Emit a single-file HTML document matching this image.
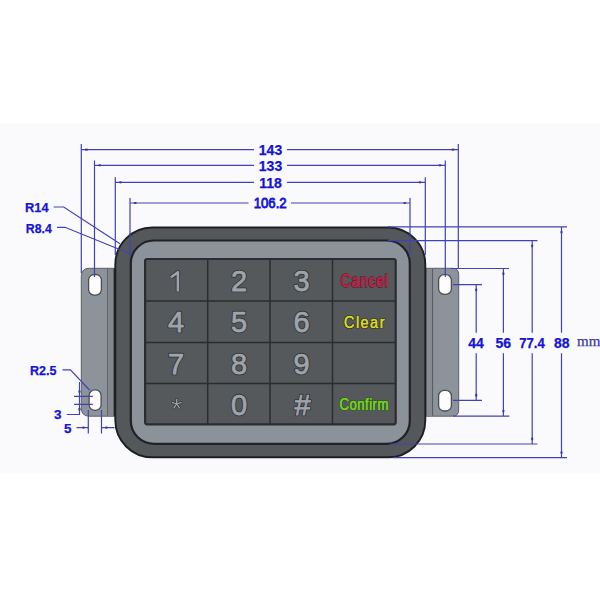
<!DOCTYPE html>
<html><head><meta charset="utf-8">
<style>
html,body{margin:0;padding:0;background:#fff;width:600px;height:600px;overflow:hidden}
svg{display:block}
.d{stroke:#4242b4;stroke-width:1.2;fill:none}
.t{font-family:"Liberation Sans",sans-serif;font-weight:bold;fill:#1414d4;stroke:#1414d4;stroke-width:0.25}
.k{font-family:"Liberation Sans",sans-serif;fill:#b4b8bd;stroke:#3a3d40;stroke-width:0.6;paint-order:stroke}
</style></head>
<body>
<svg width="600" height="600" viewBox="0 0 600 600">
<rect x="0" y="0" width="600" height="600" fill="#ffffff"/>
<rect x="0" y="123.5" width="600" height="349" fill="#fafafd"/>

<!-- brackets -->
<path d="M115.5 268.3 H89.5 Q81.3 268.3 81.3 276.5 V408 Q81.3 416.2 89.5 416.2 H115.5 Z" fill="#8d939a" stroke="#5c6065" stroke-width="1"/>
<rect x="107" y="268.8" width="1.2" height="147" fill="#5e6368"/>
<rect x="108.2" y="268.8" width="5.4" height="147" fill="#82878d"/>
<rect x="113.6" y="268.8" width="1.5" height="147" fill="#25272a"/>
<path d="M425 268.3 H452.5 Q458.7 268.3 458.7 274.5 V410 Q458.7 416.2 452.5 416.2 H425 Z" fill="#8d939a" stroke="#5c6065" stroke-width="1"/>
<rect x="425.5" y="268.8" width="1" height="147" fill="#2c2e31"/>
<rect x="426.5" y="268.8" width="5.6" height="147" fill="#868c92"/>
<rect x="432" y="268.8" width="1.1" height="147" fill="#5a5e63"/>
<!-- slots -->
<rect x="88.6" y="274.5" width="12.8" height="20.6" rx="5.6" ry="5.6" fill="#fdfdfd" stroke="#4a4d51" stroke-width="1.3"/>
<rect x="89.1" y="389.8" width="12" height="20.5" rx="5.6" ry="5.6" fill="#fdfdfd" stroke="#4a4d51" stroke-width="1.3"/>
<rect x="438.6" y="274.6" width="12.8" height="19.8" rx="5.6" ry="5.6" fill="#fdfdfd" stroke="#4a4d51" stroke-width="1.3"/>
<rect x="438.6" y="390.3" width="12.8" height="20.7" rx="5.6" ry="5.6" fill="#fdfdfd" stroke="#4a4d51" stroke-width="1.3"/>

<!-- outer frame -->
<rect x="115.3" y="227.5" width="310" height="229.8" rx="37" ry="37" fill="#55585b" stroke="#1e1f21" stroke-width="1.9"/>
<!-- bezel -->
<rect x="130.8" y="240.5" width="279" height="203.3" rx="23" ry="23" fill="#8c929a" stroke="#202225" stroke-width="2.2"/>
<!-- key area -->
<rect x="145.1" y="259" width="250.6" height="165.3" rx="2" ry="2" fill="#56595c" stroke="#2a2c2f" stroke-width="2.2"/>
<g stroke="#2a2c2f" stroke-width="1.5">
<line x1="207.7" y1="259" x2="207.7" y2="424.5"/>
<line x1="270" y1="259" x2="270" y2="424.5"/>
<line x1="332.5" y1="259" x2="332.5" y2="424.5"/>
<line x1="144.5" y1="301" x2="396" y2="301"/>
<line x1="144.5" y1="342.5" x2="396" y2="342.5"/>
<line x1="144.5" y1="383.6" x2="396" y2="383.6"/>
</g>
<!-- key labels -->
<path d="M171 277.2 L177.9 272.2 V291.2" fill="none" stroke="#33363a" stroke-width="4.3" stroke-linejoin="round"/>
<path d="M171 277.2 L177.9 272.2 V291.2" fill="none" stroke="#9fa4aa" stroke-width="2.6" stroke-linejoin="round"/>
<g font-family="Liberation Sans" font-size="29" text-anchor="middle" fill="none" stroke="#33363a" stroke-width="2.6" stroke-linejoin="round">
<text x="239" y="290.8">2</text>
<text x="301.5" y="290.8">3</text>
<text x="176" y="332.2">4</text>
<text x="239" y="332.2">5</text>
<text x="301.5" y="332.2">6</text>
<text x="176" y="374">7</text>
<text x="239" y="374">8</text>
<text x="301.5" y="374">9</text>
<text x="239" y="414.6">0</text>
<text x="302.5" y="415">#</text>
</g>
<g font-family="Liberation Sans" font-size="29" text-anchor="middle" fill="#9fa4aa" stroke="#9fa4aa" stroke-width="0.75" stroke-linejoin="round">
<text x="239" y="290.8">2</text>
<text x="301.5" y="290.8">3</text>
<text x="176" y="332.2">4</text>
<text x="239" y="332.2">5</text>
<text x="301.5" y="332.2">6</text>
<text x="176" y="374">7</text>
<text x="239" y="374">8</text>
<text x="301.5" y="374">9</text>
<text x="239" y="414.6">0</text>
<text x="302.5" y="415">#</text>
</g>
<g stroke="#35383b" stroke-width="2.4" stroke-linecap="round"><path d="M176.7 404 V399.3 M176.7 404 L181.2 402.5 M176.7 404 L179.5 407.8 M176.7 404 L173.9 407.8 M176.7 404 L172.2 402.5"/></g>
<g stroke="#a4a9ae" stroke-width="1.2" stroke-linecap="round"><path d="M176.7 404 V399.3 M176.7 404 L181.2 402.5 M176.7 404 L179.5 407.8 M176.7 404 L173.9 407.8 M176.7 404 L172.2 402.5"/></g>
<text transform="translate(364,287) scale(0.8,1)" font-family="Liberation Sans" font-size="17.5" text-anchor="middle" fill="#c41e46" stroke="#33262a" stroke-width="1.5" paint-order="stroke" stroke-linejoin="round" textLength="59" lengthAdjust="spacing">Cancel</text>
<text transform="translate(364,287) scale(0.8,1)" font-family="Liberation Sans" font-size="17.5" text-anchor="middle" fill="#c41e46" stroke="#c41e46" stroke-width="0.45" stroke-linejoin="round" textLength="59" lengthAdjust="spacing">Cancel</text>
<text transform="translate(364.2,328) scale(0.9,1)" font-family="Liberation Sans" font-size="16" text-anchor="middle" fill="#d8d82c" stroke="#36361e" stroke-width="2.2" paint-order="stroke" stroke-linejoin="round" textLength="45" lengthAdjust="spacing">Clear</text>
<text transform="translate(364.2,328) scale(0.9,1)" font-family="Liberation Sans" font-size="16" text-anchor="middle" fill="#d8d82c" stroke="#d8d82c" stroke-width="0.3" stroke-linejoin="round" textLength="45" lengthAdjust="spacing">Clear</text>
<text transform="translate(364,409.8) scale(0.8,1)" font-family="Liberation Sans" font-size="16.5" text-anchor="middle" fill="#72d41e" stroke="#24401a" stroke-width="1.4" paint-order="stroke" stroke-linejoin="round" textLength="61" lengthAdjust="spacing">Confirm</text>
<text transform="translate(364,409.8) scale(0.8,1)" font-family="Liberation Sans" font-size="16.5" text-anchor="middle" fill="#72d41e" stroke="#72d41e" stroke-width="0.45" stroke-linejoin="round" textLength="61" lengthAdjust="spacing">Confirm</text>

<!-- dimension lines -->
<g class="d">
<!-- top ext -->
<path d="M81.3 144 V273 M458.3 144 V268.3 M94.5 160.4 V277 M445.3 160.4 V277 M115.3 177.3 V255 M425.3 177.3 V255 M130 198 V256 M410 198 V257"/>
<!-- top dim lines -->
<path d="M81.3 149.7 H254 M287 149.7 H458.3 M94.5 165.3 H254 M287 165.3 H445.3 M115.3 182.3 H254 M287 182.3 H425.3 M130 203 H248.5 M291 203 H410"/>
<!-- right ext -->
<path d="M388 226.9 H567 M388 240.6 H537.5 M450.5 268.5 H509 M453 284.6 H482 M393 457.6 H567 M390 444 H537.5 M453 416.1 H509.3 M453 400.4 H482"/>
<!-- right dim -->
<path d="M561.5 226.9 V332.8 M561.5 353.3 V457.6 M532.2 240.6 V332.8 M532.2 353.3 V444 M503.4 268.5 V332.8 M503.4 353.3 V416.1 M476.2 284.6 V332.8 M476.2 353.3 V400.4"/>
<!-- leaders -->
<path d="M53.7 207 H63.7 L120 243.7 M57 227.3 H65 L130.8 254 M62.5 369.8 H70.4 L89.5 390"/>
<!-- small dims -->
<path d="M74 396.3 H92.8 M74 404.4 H92.8 M79.5 382 V414.5 H66.8 M88.3 410 V433.5 M101.5 410 V433.5 M76.5 427.6 H88.3 M101.5 427.6 H114.5"/>
</g>
<!-- arrowheads -->
<g fill="#3a3a98">
<ellipse cx="86.5" cy="149.7" rx="1.6" ry="1.1"/><ellipse cx="453" cy="149.7" rx="1.6" ry="1.1"/><ellipse cx="99.8" cy="165.3" rx="1.6" ry="1.1"/><ellipse cx="440" cy="165.3" rx="1.6" ry="1.1"/><ellipse cx="120.5" cy="182.3" rx="1.6" ry="1.1"/><ellipse cx="420" cy="182.3" rx="1.6" ry="1.1"/><ellipse cx="135.2" cy="203" rx="1.6" ry="1.1"/><ellipse cx="404.8" cy="203" rx="1.6" ry="1.1"/><ellipse cx="561.5" cy="232" rx="1.1" ry="1.6"/><ellipse cx="561.5" cy="452.5" rx="1.1" ry="1.6"/><ellipse cx="532.2" cy="245.8" rx="1.1" ry="1.6"/><ellipse cx="532.2" cy="438.8" rx="1.1" ry="1.6"/><ellipse cx="503.4" cy="273.7" rx="1.1" ry="1.6"/><ellipse cx="503.4" cy="411" rx="1.1" ry="1.6"/><ellipse cx="476.2" cy="289.8" rx="1.1" ry="1.6"/><ellipse cx="476.2" cy="395.2" rx="1.1" ry="1.6"/><ellipse cx="83.5" cy="427.6" rx="1.6" ry="1.1"/><ellipse cx="106.3" cy="427.6" rx="1.6" ry="1.1"/><ellipse cx="79.5" cy="391.5" rx="1.1" ry="1.6"/><ellipse cx="79.5" cy="409.2" rx="1.1" ry="1.6"/>
</g>

<!-- dim text -->
<g class="t" font-size="14" text-anchor="middle">
<text x="270.5" y="154.6">143</text>
<text x="270.5" y="170.5">133</text>
<text x="270.5" y="188">118</text>
<text x="270.2" y="208" font-weight="normal" stroke="#1414d4" stroke-width="0.8" textLength="33" lengthAdjust="spacingAndGlyphs">106.2</text>
<text x="476" y="347.8">44</text>
<text x="503.3" y="347.8">56</text>
<text x="532" y="347.8" textLength="25.5" lengthAdjust="spacingAndGlyphs">77.4</text>
<text x="561.8" y="347.8">88</text>
</g>
<g class="t" font-size="13.5">
<text x="25" y="212" textLength="23.5" lengthAdjust="spacingAndGlyphs">R14</text>
<text x="25.8" y="233" textLength="26" lengthAdjust="spacingAndGlyphs">R8.4</text>
<text x="30" y="374.8" textLength="26.5" lengthAdjust="spacingAndGlyphs">R2.5</text>
<text x="53.9" y="419.4">3</text>
<text x="64" y="432.6">5</text>
</g>
<text x="577" y="346.4" font-family="Liberation Serif" font-size="15" fill="#3a3a9c" stroke="#3a3a9c" stroke-width="0.25">mm</text>
</svg>
</body></html>
